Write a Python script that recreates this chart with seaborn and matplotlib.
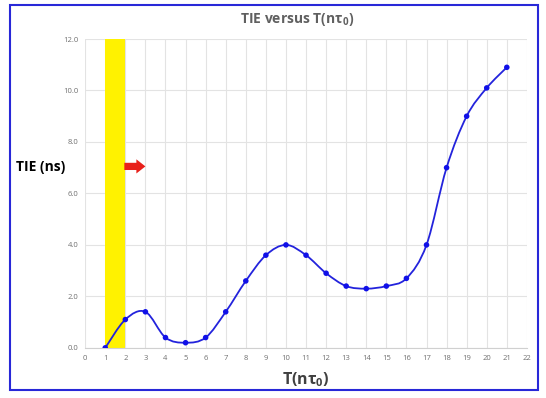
import matplotlib
matplotlib.use("Agg")
import matplotlib.pyplot as plt
import numpy as np
import pandas as pd
import seaborn as sns
from matplotlib.path import Path
from matplotlib.patches import PathPatch, Rectangle, FancyArrow

# data
t_values = [1, 2, 3, 4, 5, 6, 7, 8, 9, 10, 11, 12, 13, 14, 15, 16, 17, 18, 19, 20, 21]
tie_ns = [0.0, 1.1, 1.4, 0.4, 0.2, 0.4, 1.4, 2.6, 3.6, 4.0, 3.6, 2.9, 2.4, 2.3, 2.4,
          2.7, 4.0, 7.0, 9.0, 10.1, 10.9]
x_ticks = list(range(0, 23))
y_ticks = [0, 2, 4, 6, 8, 10, 12]
band_start, band_end = 1, 2

df = pd.DataFrame({"T": t_values, "TIE": tie_ns})

sns.set_theme(style="white")
plt.rcParams["font.family"] = ["Open Sans", "DejaVu Sans"]
plt.rcParams["mathtext.fontset"] = "custom"
plt.rcParams["mathtext.rm"] = "Open Sans:bold"
plt.rcParams["mathtext.bf"] = "Open Sans:bold"

fig = plt.figure(figsize=(5.46, 3.98), dpi=100)
ax = fig.add_axes([0.156, 0.126, 0.809, 0.776])

# yellow highlight band
ax.axvspan(band_start, band_end, color="#FFF200", zorder=1, lw=0)


# smooth curve like Excel's smoothed line (Catmull-Rom -> cubic Bezier)
def smooth_path(xs, ys, tension=1 / 6):
    pts = np.column_stack([xs, ys]).astype(float)
    verts = [pts[0]]
    codes = [Path.MOVETO]
    n = len(pts)
    for i in range(n - 1):
        p0 = pts[i - 1] if i > 0 else pts[i]
        p1 = pts[i]
        p2 = pts[i + 1]
        p3 = pts[i + 2] if i + 2 < n else pts[i + 1]
        c1 = p1 + (p2 - p0) * tension
        c2 = p2 - (p3 - p1) * tension
        verts += [c1, c2, p2]
        codes += [Path.CURVE4] * 3
    return Path(verts, codes)


ax.add_patch(PathPatch(smooth_path(df["T"], df["TIE"]), fill=False,
                       edgecolor="#2323DC", lw=1.3, zorder=3))
sns.scatterplot(data=df, x="T", y="TIE", ax=ax, color="#1010E8", s=16,
                edgecolor="none", zorder=4, legend=False)

# red arrow
ax.add_patch(FancyArrow(1.95, 7.05, 0.6, 0, width=0.28, head_width=0.55,
                        head_length=0.45, color="#E8201A", lw=0, zorder=5))

ax.set_xlim(0, 22)
ax.set_ylim(0, 12)
ax.set_xticks(x_ticks)
ax.set_yticks(y_ticks)
ax.set_yticklabels([f"{v:.1f}" for v in y_ticks])
ax.tick_params(axis="both", labelsize=5.5, colors="#707070", length=0, pad=5)
ax.grid(True, color="#E3E3E3", lw=0.8)
ax.set_axisbelow(True)
for side in ["top", "right", "left"]:
    ax.spines[side].set_visible(False)
ax.spines["bottom"].set_color("#D0D0D0")
ax.spines["bottom"].set_linewidth(0.8)

ax.set_xlabel("T(nτ$_0$)", fontsize=11.5, fontweight="bold", color="#404040", labelpad=6)
ax.set_ylabel("")
fig.text(0.075, 0.58, "TIE (ns)", fontsize=10, fontweight="bold", color="black",
         ha="center", va="center")
fig.text(0.545, 0.952, "TIE versus T(nτ$_0$)", fontsize=10, fontweight="bold",
         color="#606060", ha="center", va="center")

# blue frame around the figure
fig.add_artist(Rectangle((0.019, 0.02), 0.966, 0.967, transform=fig.transFigure,
                         fill=False, edgecolor="#2828D8", lw=1.5))

fig.savefig("out.png", dpi=100)
plt.close(fig)
